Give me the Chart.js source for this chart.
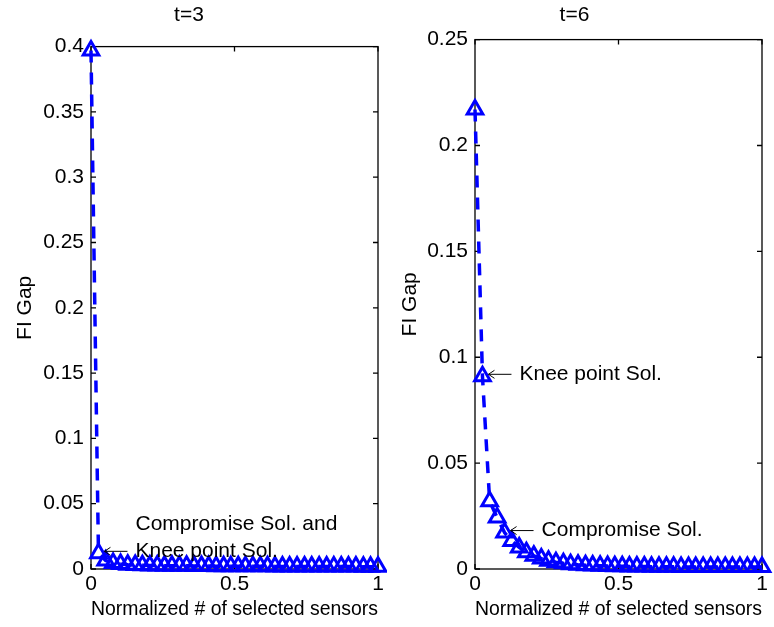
<!DOCTYPE html>
<html>
<head>
<meta charset="utf-8">
<script src="https://cdn.jsdelivr.net/npm/chart.js@4/dist/chart.umd.min.js"></script>
<style>
  body { margin: 0; background: #fff; }
  .wrap { position: absolute; top: 0; width: 387px; height: 627px; }
  #leftWrap { left: 0; }
  #rightWrap { left: 387px; }
</style>
</head>
<body>
<div class="wrap" id="leftWrap"><canvas id="chartT3"></canvas></div>
<div class="wrap" id="rightWrap"><canvas id="chartT6"></canvas></div>
<script>
const sensors = [0, 0.026, 0.051, 0.077, 0.103, 0.128, 0.154, 0.179, 0.205, 0.231,
  0.256, 0.282, 0.308, 0.333, 0.359, 0.385, 0.41, 0.436, 0.462, 0.487,
  0.513, 0.538, 0.564, 0.59, 0.615, 0.641, 0.667, 0.692, 0.718, 0.744,
  0.769, 0.795, 0.821, 0.846, 0.872, 0.897, 0.923, 0.949, 0.974, 1];

const gapT3 = [0.397, 0.012, 0.0065, 0.0045, 0.0038, 0.0033, 0.003, 0.0028, 0.0027, 0.0026,
  0.0025, 0.0025, 0.0024, 0.0024, 0.0023, 0.0023, 0.0023, 0.0022, 0.0022, 0.0022,
  0.0022, 0.0021, 0.0021, 0.0021, 0.0021, 0.002, 0.002, 0.002, 0.002, 0.002,
  0.002, 0.0019, 0.0019, 0.0019, 0.0019, 0.0019, 0.0019, 0.0018, 0.0018, 0.0018];

const gapT6 = [0.217, 0.091, 0.032, 0.0243, 0.0172, 0.0132, 0.0102, 0.0079, 0.0062, 0.0049,
  0.0039, 0.0032, 0.0027, 0.0023, 0.002, 0.0018, 0.0016, 0.0015, 0.0014, 0.0013,
  0.0013, 0.0012, 0.0012, 0.0012, 0.0011, 0.0011, 0.0011, 0.0011, 0.001, 0.001,
  0.001, 0.001, 0.001, 0.001, 0.001, 0.001, 0.001, 0.001, 0.001, 0.001];

const xTicks = [0, 0.5, 1];
const yTicksT3 = [0, 0.05, 0.1, 0.15, 0.2, 0.25, 0.3, 0.35, 0.4];
const yTicksT6 = [0, 0.05, 0.1, 0.15, 0.2, 0.25];

// annotations: index of point, lines of text
const notesT3 = [{ idx: 1, lines: ["Compromise Sol. and", "Knee point Sol."] }];
const notesT6 = [
  { idx: 1, lines: ["Knee point Sol."] },
  { idx: 4, lines: ["Compromise Sol."] }
];

const FONT = '"Liberation Sans", Arial, sans-serif';
const FS = 21;
const BLUE = "#0000ff";
const fmt = v => String(+Number(v).toFixed(2));

// box + inside ticks like matlab axes
const boxPlugin = {
  id: "box",
  beforeDatasetsDraw(chart) {
    const { ctx, chartArea: a, scales } = chart;
    ctx.save();
    ctx.strokeStyle = "#000";
    ctx.lineWidth = 1.3;
    ctx.strokeRect(a.left, a.top, a.right - a.left, a.bottom - a.top);
    const len = 5;
    ctx.beginPath();
    scales.y.ticks.forEach(t => {
      const y = scales.y.getPixelForValue(t.value);
      ctx.moveTo(a.left, y); ctx.lineTo(a.left + len, y);
      ctx.moveTo(a.right, y); ctx.lineTo(a.right - len, y);
    });
    scales.x.ticks.forEach(t => {
      const x = scales.x.getPixelForValue(t.value);
      ctx.moveTo(x, a.bottom); ctx.lineTo(x, a.bottom - len);
      ctx.moveTo(x, a.top); ctx.lineTo(x, a.top + len);
    });
    ctx.stroke();
    ctx.restore();
  }
};

const notePlugin = {
  id: "notes",
  afterDatasetsDraw(chart, args, opts) {
    const { ctx } = chart;
    const meta = chart.getDatasetMeta(0);
    ctx.save();
    ctx.font = FS + "px " + FONT;
    ctx.fillStyle = "#000";
    ctx.strokeStyle = "#000";
    ctx.lineWidth = 1;
    ctx.textBaseline = "middle";
    (opts.notes || []).forEach(n => {
      const p = meta.data[n.idx];
      const x0 = p.x + 6, y0 = p.y - 2;
      ctx.beginPath();
      ctx.moveTo(x0, y0); ctx.lineTo(x0 + 23, y0);
      ctx.moveTo(x0 + 6, y0 - 4); ctx.lineTo(x0, y0); ctx.lineTo(x0 + 6, y0 + 4);
      ctx.stroke();
      const last = n.lines.length - 1;
      n.lines.forEach((s, i) => {
        ctx.fillText(s, x0 + 31, y0 - (last - i) * 27);
      });
    });
    ctx.restore();
  }
};

function makeChart(id, title, ys, yTicks, yMax, notes, yWidth, titleGap, yTitlePad, padRight) {
  const pts = sensors.map((s, i) => ({ x: s, y: ys[i] }));
  return new Chart(document.getElementById(id), {
    type: "line",
    data: {
      datasets: [{
        data: pts,
        borderColor: BLUE,
        borderWidth: 3.5,
        borderDash: [12, 10],
        pointStyle: "triangle",
        pointRadius: 9,
        pointBorderWidth: 3,
        pointBorderColor: BLUE,
        pointBackgroundColor: "rgba(0,0,0,0)",
        fill: false,
        tension: 0,
        clip: false
      }]
    },
    options: {
      responsive: true,
      maintainAspectRatio: false,
      animation: false,
      layout: { autoPadding: false, padding: { left: 0, right: padRight, top: 0, bottom: 0 } },
      plugins: {
        legend: { display: false },
        tooltip: { enabled: false },
        title: {
          display: true,
          text: title,
          color: "#000",
          font: { family: FONT, size: FS, weight: "normal" },
          padding: { top: 3, bottom: titleGap }
        },
        notes: { notes }
      },
      scales: {
        x: {
          type: "linear",
          min: 0,
          max: 1,
          afterBuildTicks: s => { s.ticks = xTicks.map(v => ({ value: v })); },
          afterFit: s => { s.height = 58; },
          grid: { display: false, drawTicks: false },
          border: { display: false },
          ticks: { color: "#000", padding: 3, maxRotation: 0, font: { family: FONT, size: FS }, callback: fmt },
          title: {
            display: true,
            text: "Normalized # of selected sensors",
            color: "#000",
            font: { family: FONT, size: FS },
            padding: { top: 0, bottom: 5 }
          }
        },
        y: {
          min: 0,
          max: yMax,
          afterBuildTicks: s => { s.ticks = yTicks.map(v => ({ value: v })); },
          afterFit: s => { s.width = yWidth; },
          grid: { display: false, drawTicks: false },
          border: { display: false },
          ticks: { color: "#000", padding: 7, font: { family: FONT, size: FS }, callback: fmt },
          title: {
            display: true,
            text: "FI Gap",
            color: "#000",
            font: { family: FONT, size: FS },
            padding: { top: yTitlePad, bottom: 0 }
          }
        }
      }
    },
    plugins: [boxPlugin, notePlugin]
  });
}

makeChart("chartT3", "t=3", gapT3, yTicksT3, 0.4, notesT3, 91, 18.4, 13, 9);
makeChart("chartT6", "t=6", gapT6, yTicksT6, 0.25, notesT6, 88, 11.4, 10.5, 12);
</script>
</body>
</html>
